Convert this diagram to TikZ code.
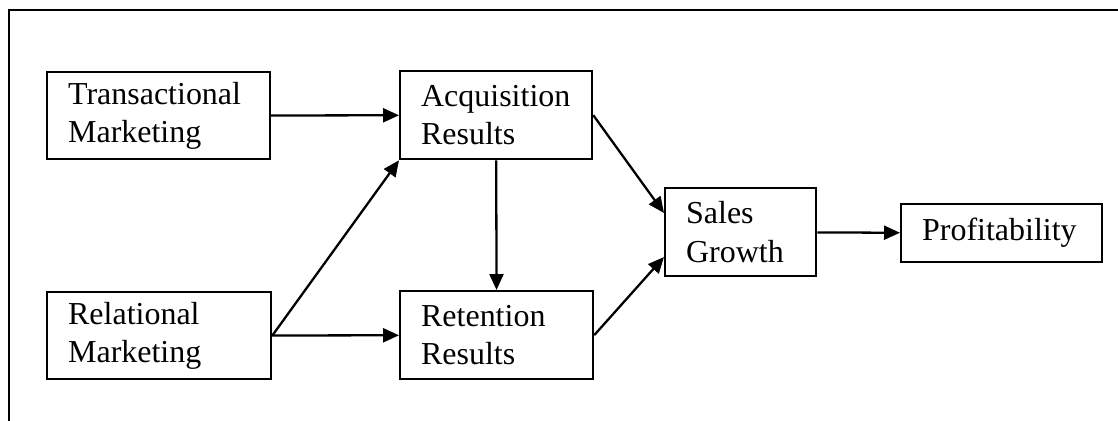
\documentclass[tikz,border=0pt]{standalone}
\usepackage{fontspec}
\setmainfont{Liberation Serif}
\usetikzlibrary{arrows.meta}

\begin{document}
\begin{tikzpicture}
    [
      x = 0.02cm, y = -0.02cm,
      box/.style = {draw, line width = 1.3pt, anchor = north west,
          inner xsep = 0.42cm, inner ysep = 0pt, align = left,
          font = \fontsize{18.2}{21.8}\selectfont},
      arr/.style = {line width = 1.3pt,
          -{Triangle[length = 0.32cm, width = 0.28cm]}},
    ]

    \useasboundingbox (0,0) rectangle (1118,420);

    % open frame round the model
    \draw[line width = 1.1pt] (9,421) -- (9,10) -- (1118,10);

    % marketing approaches
    \node[box, text width = 3.62cm, minimum height = 1.74cm] (trans) at (46,71)
        {Transactional\\Marketing};
    \node[box, text width = 3.64cm, minimum height = 1.74cm] (rel) at (46,291)
        {Relational\\Marketing};

    % customer results
    \node[box, text width = 3.00cm, minimum height = 1.76cm] (acq) at (399,70)
        {Acquisition\\Results};
    \node[box, text width = 3.02cm, minimum height = 1.76cm] (ret) at (399,290)
        {Retention\\Results};

    % outcomes
    \node[box, text width = 2.18cm, minimum height = 1.76cm] (sales) at (664,187)
        {Sales\\Growth};
    \node[box, text width = 3.18cm, minimum height = 1.16cm] (profit) at (900,203)
        {Profitability};

    \draw[arr] (trans) -- (acq);
    \draw[arr] (rel.east) -- (acq.south west);
    \draw[arr] (rel) -- (ret);
    \draw[arr] (acq) -- (ret);
    \draw[arr] (acq.east) -- (sales.166);
    \draw[arr] (ret.east) -- (sales.198);
    \draw[arr] (sales) -- (profit);

  \end{tikzpicture}
\end{document}
